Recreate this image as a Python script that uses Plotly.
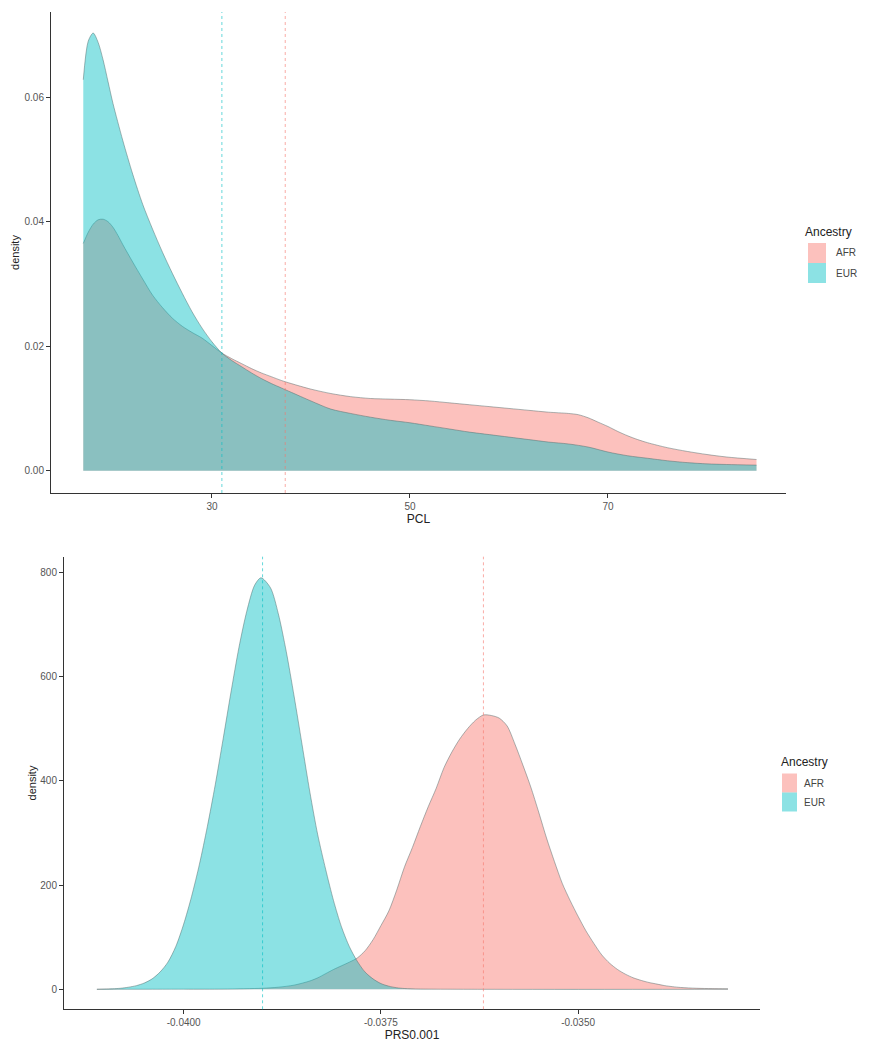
import plotly.graph_objects as go

W, H = 873, 1050

# ---------------- data ----------------
groups = ["AFR", "EUR"]
fill_colors = {"AFR": "rgba(248,118,109,0.45)", "EUR": "rgba(0,191,196,0.45)"}
line_colors = {"AFR": "#F8766D", "EUR": "#00BFC4"}

# Top panel: PCL density
pcl_afr_x = [17.0, 17.5, 18.0, 18.5, 19.0, 19.5, 20.0, 20.5, 21.0, 22.0, 23.0, 24.0, 25.0,
             26.0, 27.0, 28.0, 29.0, 30.0, 31.0, 32.0, 33.0, 34.0, 35.0, 36.0, 37.0, 38.0,
             40.0, 42.0, 44.0, 46.0, 48.0, 50.0, 52.0, 54.0, 56.0, 58.0, 60.0, 62.0, 64.0,
             66.0, 67.0, 68.0, 69.0, 70.0, 71.0, 72.0, 73.0, 74.0, 76.0, 78.0, 80.0, 82.0, 85.0]
pcl_afr_y = [0.0365, 0.0383, 0.0396, 0.0403, 0.0404, 0.0400, 0.0391, 0.0378, 0.0363, 0.0335,
             0.0308, 0.0282, 0.0262, 0.0245, 0.0232, 0.0222, 0.0213, 0.0201, 0.0189, 0.0180,
             0.0172, 0.0164, 0.0157, 0.0151, 0.0145, 0.0140, 0.0131, 0.0124, 0.0119, 0.0116,
             0.0115, 0.0114, 0.0112, 0.0109, 0.0106, 0.0103, 0.0100, 0.0097, 0.0094, 0.0092,
             0.0090, 0.0085, 0.0078, 0.0071, 0.0063, 0.0056, 0.0050, 0.0045, 0.0037, 0.0031,
             0.0026, 0.0022, 0.0018]
pcl_eur_x = [17.0, 17.5, 18.0, 18.5, 19.0, 19.5, 20.0, 21.0, 22.0, 23.0, 24.0, 25.0, 26.0,
             27.0, 28.0, 29.0, 30.0, 31.0, 32.0, 33.0, 34.0, 35.0, 36.0, 37.0, 38.0, 40.0,
             42.0, 44.0, 46.0, 48.0, 50.0, 52.0, 54.0, 56.0, 58.0, 60.0, 62.0, 64.0, 66.0,
             68.0, 70.0, 72.0, 74.0, 76.0, 78.0, 80.0, 82.0, 85.0]
pcl_eur_y = [0.0628, 0.0690, 0.0703, 0.0688, 0.0660, 0.0625, 0.0590, 0.0530, 0.0476, 0.0428,
             0.0388, 0.0351, 0.0317, 0.0285, 0.0255, 0.0229, 0.0207, 0.0189, 0.0177, 0.0167,
             0.0157, 0.0148, 0.0140, 0.0133, 0.0126, 0.0112, 0.0099, 0.0092, 0.0086, 0.0081,
             0.0077, 0.0072, 0.0067, 0.0062, 0.0058, 0.0054, 0.0050, 0.0046, 0.0043, 0.0038,
             0.0030, 0.0024, 0.0020, 0.0016, 0.0013, 0.0011, 0.0010, 0.0009]
pcl_means = {"AFR": 37.4, "EUR": 31.0}

# Bottom panel: PRS0.001 density
prs_afr_x = [-0.0411, -0.0400, -0.0395, -0.0390, -0.0388, -0.0386, -0.0384, -0.0383, -0.0382,
             -0.0381, -0.0380, -0.0379, -0.0378, -0.0377, -0.0376, -0.0375, -0.0374, -0.0373,
             -0.0372, -0.0371, -0.0370, -0.0369, -0.0368, -0.0367, -0.0366, -0.0365, -0.0364,
             -0.0363, -0.0362, -0.0361, -0.0360, -0.0359, -0.0358, -0.0357, -0.0356, -0.0355,
             -0.0354, -0.0353, -0.0352, -0.0351, -0.0350, -0.0349, -0.0348, -0.0347, -0.0346,
             -0.0345, -0.0344, -0.0343, -0.0342, -0.0341, -0.0340, -0.0339, -0.0338, -0.0337,
             -0.0335, -0.0333, -0.0331]
prs_afr_y = [0, 0.3, 0.5, 2, 4, 8, 16, 22, 30, 38, 45, 52, 60, 74, 95, 122, 150, 190,
             235, 272, 312, 350, 385, 425, 455, 480, 500, 516, 526, 525, 520, 505, 470, 430,
             388, 340, 290, 245, 203, 170, 140, 112, 88, 66, 50, 38, 29, 22, 17, 13, 10, 7,
             5, 3.5, 2, 1.3, 1]
prs_eur_x = [-0.0411, -0.0410, -0.0409, -0.0408, -0.0407, -0.0406, -0.0405, -0.0404, -0.0403,
             -0.0402, -0.0401, -0.0400, -0.0399, -0.0398, -0.0397, -0.0396, -0.0395, -0.0394,
             -0.0393, -0.0392, -0.0391, -0.03902, -0.0389, -0.0388, -0.0387, -0.0386, -0.0385,
             -0.0384, -0.0383, -0.0382, -0.0381, -0.0380, -0.0379, -0.0378, -0.0377, -0.0376,
             -0.0375, -0.0374, -0.0373, -0.0372, -0.0370, -0.0331]
prs_eur_y = [0, 0.5, 1, 2, 4, 7, 12, 20, 33, 52, 82, 125, 178, 240, 312, 392, 480, 570,
             655, 725, 775, 789, 770, 720, 648, 562, 470, 378, 296, 230, 170, 120, 82, 54,
             33, 20, 11, 6, 3, 1.5, 0.5, 0]
prs_means = {"AFR": -0.0362, "EUR": -0.0390}

pcl_ticks = [30, 50, 70]
pcl_dens_ticks = [0.00, 0.02, 0.04, 0.06]
prs_ticks = [-0.0400, -0.0375, -0.0350]
prs_dens_ticks = [0, 200, 400, 600, 800]

FONT = "Liberation Sans"

# ---------------- figure ----------------
def px_x(p):
    return p / W


def px_y(p):
    return 1 - p / H


fig = go.Figure()

series_top = {"AFR": (pcl_afr_x, pcl_afr_y), "EUR": (pcl_eur_x, pcl_eur_y)}
series_bot = {"AFR": (prs_afr_x, prs_afr_y), "EUR": (prs_eur_x, prs_eur_y)}
outline = dict(color="rgba(80,105,105,0.6)", width=0.8, shape="spline", smoothing=0.8)

for g in groups:
    x, y = series_top[g]
    fig.add_trace(go.Scatter(
        x=x, y=y, mode="lines", name=g, fill="tozeroy", fillcolor=fill_colors[g],
        line=outline, xaxis="x", yaxis="y", showlegend=False))
for g in groups:
    x, y = series_bot[g]
    fig.add_trace(go.Scatter(
        x=x, y=y, mode="lines", name=g, fill="tozeroy", fillcolor=fill_colors[g],
        line=outline, xaxis="x2", yaxis="y2", showlegend=False))

shapes = []
for g in groups:
    shapes.append(dict(type="line", xref="x", yref="y domain", x0=pcl_means[g], x1=pcl_means[g],
                       y0=0, y1=1, line=dict(color=line_colors[g], width=1, dash="3px,3px"),
                       opacity=0.6))
    shapes.append(dict(type="line", xref="x2", yref="y2 domain", x0=prs_means[g], x1=prs_means[g],
                       y0=0, y1=1, line=dict(color=line_colors[g], width=1, dash="3px,3px"),
                       opacity=0.6))

annotations = []


def add_legend(x_title, y_title, box_x0, box_w, label_x, row_gap):
    annotations.append(dict(xref="paper", yref="paper", x=px_x(x_title), y=px_y(y_title),
                            text="Ancestry", showarrow=False, xanchor="left", yanchor="middle",
                            font=dict(size=12, color="#222", family=FONT)))
    for i, g in enumerate(groups):
        yc = y_title + 21 + i * row_gap
        shapes.append(dict(type="rect", xref="paper", yref="paper",
                           x0=px_x(box_x0), x1=px_x(box_x0 + box_w),
                           y0=px_y(yc - row_gap / 2), y1=px_y(yc + row_gap / 2),
                           fillcolor=fill_colors[g], line=dict(width=0)))
        annotations.append(dict(xref="paper", yref="paper", x=px_x(label_x), y=px_y(yc),
                                text=g, showarrow=False, xanchor="left", yanchor="middle",
                                font=dict(size=10, color="#444", family=FONT)))


add_legend(803, 232, 808, 18, 834, 20)
add_legend(779, 762, 782, 15, 802, 19)

axis_common = dict(showgrid=False, zeroline=False, showline=True, linecolor="#333", linewidth=1,
                   ticks="outside", ticklen=4, tickcolor="#333", tickwidth=1,
                   tickfont=dict(size=10, color="#555", family=FONT))

fig.update_layout(
    width=W, height=H, margin=dict(l=0, r=0, t=0, b=0),
    paper_bgcolor="white", plot_bgcolor="white",
    shapes=shapes, annotations=annotations,
    xaxis=dict(axis_common, domain=[px_x(51), px_x(786)], range=[13.74, 87.98],
               tickvals=pcl_ticks, ticktext=[str(t) for t in pcl_ticks], anchor="y",
               title=dict(text="PCL", standoff=3, font=dict(size=12, color="#222", family=FONT))),
    yaxis=dict(axis_common, domain=[px_y(493), px_y(12)], range=[-0.00358, 0.07368],
               tickvals=pcl_dens_ticks, ticktext=[f"{t:.2f}" for t in pcl_dens_ticks], anchor="x",
               title=dict(text="density", standoff=2, font=dict(size=11, color="#222", family=FONT))),
    xaxis2=dict(axis_common, domain=[px_x(64), px_x(760)], range=[-0.041517, -0.032694],
                tickvals=prs_ticks, ticktext=[f"{t:.4f}" for t in prs_ticks], anchor="y2",
                title=dict(text="PRS0.001", standoff=3, font=dict(size=12, color="#222", family=FONT))),
    yaxis2=dict(axis_common, domain=[px_y(1009.3), px_y(556.7)], range=[-38.35, 829.5],
                tickvals=prs_dens_ticks, ticktext=[str(t) for t in prs_dens_ticks], anchor="x2",
                title=dict(text="density", standoff=1, font=dict(size=11, color="#222", family=FONT))),
)

fig.write_html("out.html", config={"displayModeBar": False},
               post_script="document.body.style.margin='0';document.body.style.overflow='hidden';")
